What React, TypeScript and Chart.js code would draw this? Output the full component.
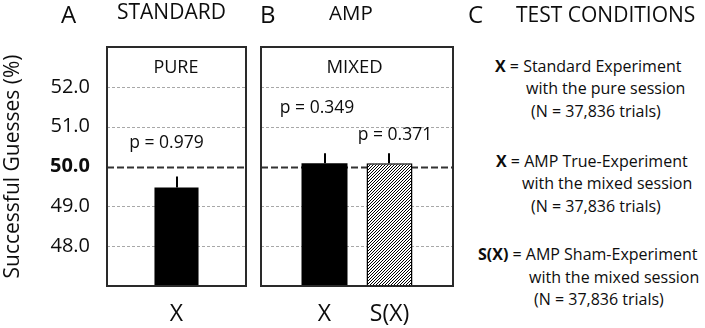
import React, { useEffect, useRef } from 'react';
import { Chart, registerables } from 'chart.js';

Chart.register(...registerables);

const FONT = '"Open Sans", "Noto Sans", sans-serif';
const INK = '#0d0d0d';

// ---- data ----
const yTickValues = [48, 49, 50, 51, 52];
const yMin = 47;
const yMax = 53;
const chanceLevel = 50;
const yTitle = 'Successful Guesses (%)';

const pureCategories = ['X'];
const pureValues = [49.47];
const pureErrors = [0.28];
const pureNotes = ['PURE', 'p = 0.979'];

const mixedCategories = ['X', 'S(X)'];
const mixedValues = [50.08, 50.08];
const mixedErrors = [0.25, 0.25];
const mixedNotes = ['MIXED', 'p = 0.349', 'p = 0.371'];

const headers = ['A', 'STANDARD', 'B', 'AMP', 'C', 'TEST CONDITIONS'];
const conditionLines: { bold?: string; text: string }[] = [
  { bold: 'X', text: ' = Standard Experiment' },
  { text: 'with the pure session' },
  { text: '(N = 37,836 trials)' },
  { bold: 'X', text: ' = AMP True-Experiment' },
  { text: 'with the mixed session' },
  { text: '(N = 37,836 trials)' },
  { bold: 'S(X)', text: ' = AMP Sham-Experiment' },
  { text: 'with the mixed session' },
  { text: '(N = 37,836 trials)' },
];

// ---- layout (styles / positions) ----
const headerLayout = [
  { x: 61, cy: 15, size: 24 },
  { x: 117, cy: 12.5, size: 21 },
  { x: 260, cy: 15, size: 24 },
  { x: 329, cy: 12.5, size: 20.5 },
  { x: 468, cy: 15, size: 24 },
  { x: 516, cy: 15.5, size: 21 },
];
const conditionLayout = [
  { x: 495, cy: 66 },
  { x: 526, cy: 88.5 },
  { x: 531, cy: 111 },
  { x: 496, cy: 161 },
  { x: 522, cy: 183.5 },
  { x: 531, cy: 206 },
  { x: 478, cy: 254.5 },
  { x: 529, cy: 277 },
  { x: 534, cy: 299.5 },
];

type Note = { text: string; fx: number; fy: number; size: number };

function makeHatch(): CanvasPattern | string {
  const n = 3;
  const c = document.createElement('canvas');
  c.width = n;
  c.height = n;
  const g = c.getContext('2d');
  if (!g) return '#888';
  g.fillStyle = '#fff';
  g.fillRect(0, 0, n, n);
  g.strokeStyle = '#000';
  g.lineWidth = 1;
  g.beginPath();
  g.moveTo(0, n);
  g.lineTo(n, 0);
  g.moveTo(-1, 1);
  g.lineTo(1, -1);
  g.moveTo(n - 1, n + 1);
  g.lineTo(n + 1, n - 1);
  g.stroke();
  return g.createPattern(c, 'repeat') || '#888';
}

function panelPlugin(errors: number[], xLabels: string[], notes: Note[]) {
  return {
    id: 'panelDecor',
    beforeDatasetsDraw(chart: any) {
      const { ctx, chartArea } = chart;
      const ys = chart.scales.y;
      ctx.save();
      yTickValues.forEach((v) => {
        const py = Math.round(ys.getPixelForValue(v)) + 0.5;
        ctx.beginPath();
        if (v === chanceLevel) {
          ctx.setLineDash([7, 3]);
          ctx.lineWidth = 2;
          ctx.strokeStyle = '#333';
        } else {
          ctx.setLineDash([3, 2]);
          ctx.lineWidth = 1;
          ctx.strokeStyle = '#a8a8a8';
        }
        ctx.moveTo(chartArea.left, py);
        ctx.lineTo(chartArea.right, py);
        ctx.stroke();
      });
      ctx.restore();
    },
    afterDatasetsDraw(chart: any) {
      const { ctx, chartArea } = chart;
      const ys = chart.scales.y;
      ctx.save();
      let k = 0;
      chart.data.datasets.forEach((ds: any, di: number) => {
        const meta = chart.getDatasetMeta(di);
        meta.data.forEach((el: any, i: number) => {
          const v = ds.data[i] as number;
          const err = errors[k];
          const top = ys.getPixelForValue(v + err);
          ctx.beginPath();
          ctx.setLineDash([]);
          ctx.lineWidth = 2;
          ctx.strokeStyle = '#000';
          ctx.moveTo(Math.round(el.x), el.y);
          ctx.lineTo(Math.round(el.x), top);
          ctx.stroke();
          ctx.fillStyle = INK;
          ctx.font = `23px ${FONT}`;
          ctx.textAlign = 'center';
          ctx.textBaseline = 'middle';
          ctx.fillText(xLabels[k], el.x, chartArea.bottom + 28);
          k++;
        });
      });
      ctx.setLineDash([]);
      ctx.lineWidth = 2;
      ctx.strokeStyle = '#2a2a2a';
      ctx.strokeRect(chartArea.left, chartArea.top, chartArea.right - chartArea.left, chartArea.bottom - chartArea.top);
      notes.forEach((n) => {
        ctx.fillStyle = INK;
        ctx.font = `${n.size}px ${FONT}`;
        ctx.textAlign = 'center';
        ctx.textBaseline = 'middle';
        const x = chartArea.left + n.fx * (chartArea.right - chartArea.left);
        const y = chartArea.top + n.fy * (chartArea.bottom - chartArea.top);
        ctx.fillText(n.text, x, y);
      });
      ctx.restore();
    },
  };
}

function yScale(show: boolean): any {
  return {
    display: show,
    min: yMin,
    max: yMax,
    afterBuildTicks: (s: any) => {
      s.ticks = yTickValues.map((v) => ({ value: v }));
    },
    afterFit: (s: any) => {
      if (show) s.width = 107;
    },
    grid: { display: false, drawTicks: false },
    border: { display: false },
    ticks: {
      padding: 17,
      color: INK,
      font: (c: any) => ({
        family: FONT,
        size: 20,
        weight: c.tick && c.tick.value === chanceLevel ? 'bold' : 'normal',
      }),
      callback: (v: any) => Number(v).toFixed(1),
    },
    title: {
      display: show,
      text: yTitle,
      color: INK,
      font: { family: FONT, size: 21 },
      padding: 0,
    },
  };
}

export default function App() {
  const refA = useRef<HTMLCanvasElement | null>(null);
  const refB = useRef<HTMLCanvasElement | null>(null);

  useEffect(() => {
    const hatch = makeHatch();
    const chartA = new Chart(refA.current as HTMLCanvasElement, {
      type: 'bar',
      data: {
        labels: pureCategories,
        datasets: [
          {
            data: pureValues,
            backgroundColor: '#000',
            borderColor: '#000',
            borderWidth: 0,
            barPercentage: 0.317,
            categoryPercentage: 1,
          },
        ],
      },
      options: {
        responsive: false,
        animation: false,
        layout: { padding: { left: 0, right: 4, top: 47, bottom: 42 } },
        plugins: { legend: { display: false }, tooltip: { enabled: false } },
        scales: { x: { display: false }, y: yScale(true) },
      },
      plugins: [
        panelPlugin(pureErrors, pureCategories, [
          { text: pureNotes[0], fx: 0.496, fy: 0.088, size: 18 },
          { text: pureNotes[1], fx: 0.428, fy: 0.402, size: 17.5 },
        ]),
      ],
    } as any);

    const chartB = new Chart(refB.current as HTMLCanvasElement, {
      type: 'bar',
      data: {
        labels: [''],
        datasets: [
          {
            label: mixedCategories[0],
            data: [mixedValues[0]],
            backgroundColor: '#000',
            borderColor: '#000',
            borderWidth: 0,
            barPercentage: 0.708,
            categoryPercentage: 0.677,
          },
          {
            label: mixedCategories[1],
            data: [mixedValues[1]],
            backgroundColor: hatch,
            borderColor: '#000',
            borderWidth: 1.5,
            barPercentage: 0.708,
            categoryPercentage: 0.677,
          },
        ],
      },
      options: {
        responsive: false,
        animation: false,
        layout: { padding: { left: 11, right: 7, top: 47, bottom: 42 } },
        plugins: { legend: { display: false }, tooltip: { enabled: false } },
        scales: { x: { display: false }, y: yScale(false) },
      },
      plugins: [
        panelPlugin(mixedErrors, mixedCategories, [
          { text: mixedNotes[0], fx: 0.487, fy: 0.088, size: 18.5 },
          { text: mixedNotes[1], fx: 0.292, fy: 0.255, size: 17.5 },
          { text: mixedNotes[2], fx: 0.698, fy: 0.368, size: 17.5 },
        ]),
      ],
    } as any);

    return () => {
      chartA.destroy();
      chartB.destroy();
    };
  }, []);

  const textDiv = (key: string, x: number, cy: number, size: number, children: React.ReactNode) => (
    <div
      key={key}
      style={{
        position: 'absolute',
        left: x,
        top: cy - 0.531 * size,
        fontFamily: FONT,
        fontSize: size,
        lineHeight: `${size}px`,
        whiteSpace: 'nowrap',
        color: INK,
      }}
    >
      {children}
    </div>
  );

  return (
    <div style={{ position: 'absolute', left: 0, top: 0, width: 705, height: 328, background: '#fff', overflow: 'hidden' }}>
      <canvas ref={refA} width={250} height={328} style={{ position: 'absolute', left: 0, top: 0 }} />
      <canvas ref={refB} width={210} height={328} style={{ position: 'absolute', left: 250, top: 0 }} />
      {headers.map((h, i) => textDiv('h' + i, headerLayout[i].x, headerLayout[i].cy, headerLayout[i].size, h))}
      {conditionLines.map((l, i) =>
        textDiv(
          'c' + i,
          conditionLayout[i].x,
          conditionLayout[i].cy,
          16,
          <>
            {l.bold ? <b>{l.bold}</b> : null}
            {l.text}
          </>
        )
      )}
    </div>
  );
}
